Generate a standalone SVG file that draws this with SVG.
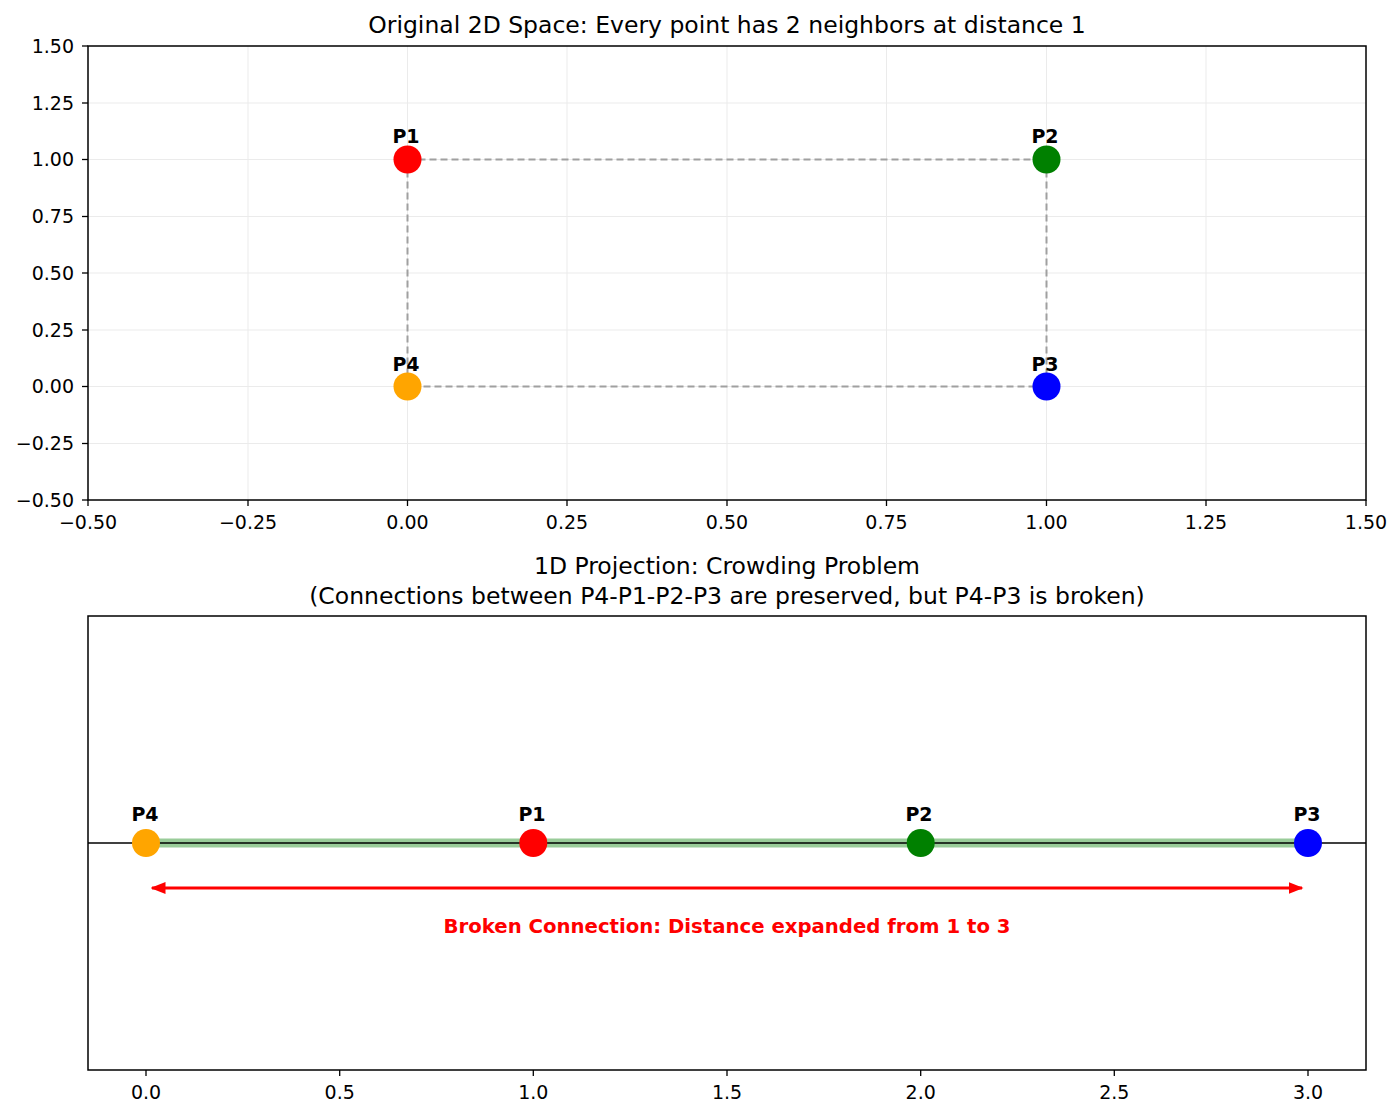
<svg xmlns="http://www.w3.org/2000/svg" width="1400" height="1118" viewBox="0 0 1400 1118">
<defs>
<style>
text{font-family:"DejaVu Sans","Liberation Sans",sans-serif;fill:#000}
.tick{font-size:19px}
.title{font-size:23.5px;text-anchor:middle}
.lbl{font-size:19px;font-weight:bold;text-anchor:middle}
.grid{stroke:#ebebeb;stroke-width:1}
.ax{stroke:#000;stroke-width:1.5;fill:none}
.tk{stroke:#000;stroke-width:1.3}
.dash{stroke:#a0a0a0;stroke-width:2;stroke-dasharray:7,4;fill:none}
</style>
<marker id="ah" viewBox="0 0 10 10" refX="9" refY="5" markerWidth="5" markerHeight="5" orient="auto-start-reverse" markerUnits="strokeWidth">
<path d="M0,1 L10,5 L0,9 z" fill="#ff0000"/>
</marker>
</defs>
<rect width="1400" height="1118" fill="#fff"/>

<!-- Top axes -->
<g id="top-axes">
<g class="grid">
<line x1="248" y1="46" x2="248" y2="500"/><line x1="407.5" y1="46" x2="407.5" y2="500"/><line x1="567" y1="46" x2="567" y2="500"/><line x1="727" y1="46" x2="727" y2="500"/><line x1="886.5" y1="46" x2="886.5" y2="500"/><line x1="1046.5" y1="46" x2="1046.5" y2="500"/><line x1="1206" y1="46" x2="1206" y2="500"/>
<line x1="88" y1="103" x2="1366" y2="103"/><line x1="88" y1="159.5" x2="1366" y2="159.5"/><line x1="88" y1="216.5" x2="1366" y2="216.5"/><line x1="88" y1="273" x2="1366" y2="273"/><line x1="88" y1="330" x2="1366" y2="330"/><line x1="88" y1="386.5" x2="1366" y2="386.5"/><line x1="88" y1="443.5" x2="1366" y2="443.5"/>
</g>
<rect class="ax" x="88" y="46" width="1278" height="454"/>
<g class="tk">
<line x1="82" y1="46" x2="88" y2="46"/><line x1="82" y1="103" x2="88" y2="103"/><line x1="82" y1="159.5" x2="88" y2="159.5"/><line x1="82" y1="216.5" x2="88" y2="216.5"/><line x1="82" y1="273" x2="88" y2="273"/><line x1="82" y1="330" x2="88" y2="330"/><line x1="82" y1="386.5" x2="88" y2="386.5"/><line x1="82" y1="443.5" x2="88" y2="443.5"/><line x1="82" y1="500" x2="88" y2="500"/>
<line x1="88" y1="500" x2="88" y2="506"/><line x1="248" y1="500" x2="248" y2="506"/><line x1="407.5" y1="500" x2="407.5" y2="506"/><line x1="567" y1="500" x2="567" y2="506"/><line x1="727" y1="500" x2="727" y2="506"/><line x1="886.5" y1="500" x2="886.5" y2="506"/><line x1="1046.5" y1="500" x2="1046.5" y2="506"/><line x1="1206" y1="500" x2="1206" y2="506"/><line x1="1366" y1="500" x2="1366" y2="506"/>
</g>
<g class="tick" text-anchor="end">
<text x="74" y="53">1.50</text><text x="74" y="110">1.25</text><text x="74" y="166">1.00</text><text x="74" y="223">0.75</text><text x="74" y="280">0.50</text><text x="74" y="337">0.25</text><text x="74" y="393">0.00</text><text x="74" y="450">−0.25</text><text x="74" y="507">−0.50</text>
</g>
<g class="tick" text-anchor="middle">
<text x="88" y="529">−0.50</text><text x="248" y="529">−0.25</text><text x="407.5" y="529">0.00</text><text x="567" y="529">0.25</text><text x="727" y="529">0.50</text><text x="886.5" y="529">0.75</text><text x="1046.5" y="529">1.00</text><text x="1206" y="529">1.25</text><text x="1366" y="529">1.50</text>
</g>
<text class="title" x="727" y="33">Original 2D Space: Every point has 2 neighbors at distance 1</text>
</g>

<g id="top-connectors">
<line class="dash" x1="407.5" y1="159.5" x2="1046.5" y2="159.5"/>
<line class="dash" x1="1046.5" y1="159.5" x2="1046.5" y2="386.5"/>
<line class="dash" x1="1046.5" y1="386.5" x2="407.5" y2="386.5"/>
<line class="dash" x1="407.5" y1="386.5" x2="407.5" y2="159.5"/>
</g>

<g id="top-P1"><circle cx="407.5" cy="159.5" r="14" fill="#ff0000"/><text class="lbl" x="406" y="143">P1</text></g>
<g id="top-P2"><circle cx="1046.5" cy="159.5" r="14" fill="#008000"/><text class="lbl" x="1045" y="143">P2</text></g>
<g id="top-P3"><circle cx="1046.5" cy="386.5" r="14" fill="#0000ff"/><text class="lbl" x="1045" y="371">P3</text></g>
<g id="top-P4"><circle cx="407.5" cy="386.5" r="14" fill="#ffa500"/><text class="lbl" x="406" y="371">P4</text></g>

<!-- Bottom axes -->
<g id="bottom-axes">
<rect class="ax" x="88" y="616" width="1278" height="454"/>
<g class="tk">
<line x1="146" y1="1070" x2="146" y2="1076"/><line x1="339.7" y1="1070" x2="339.7" y2="1076"/><line x1="533.3" y1="1070" x2="533.3" y2="1076"/><line x1="727" y1="1070" x2="727" y2="1076"/><line x1="920.7" y1="1070" x2="920.7" y2="1076"/><line x1="1114.3" y1="1070" x2="1114.3" y2="1076"/><line x1="1308" y1="1070" x2="1308" y2="1076"/>
</g>
<g class="tick" text-anchor="middle">
<text x="146" y="1099">0.0</text><text x="339.7" y="1099">0.5</text><text x="533.3" y="1099">1.0</text><text x="727" y="1099">1.5</text><text x="920.7" y="1099">2.0</text><text x="1114.3" y="1099">2.5</text><text x="1308" y="1099">3.0</text>
</g>
<text class="title" x="727" y="574">1D Projection: Crowding Problem</text>
<text class="title" x="727" y="604">(Connections between P4-P1-P2-P3 are preserved, but P4-P3 is broken)</text>
</g>

<g id="bottom-connectors">
<line x1="146" y1="843" x2="1308" y2="843" stroke="#008000" stroke-opacity="0.4" stroke-width="9"/>
<line x1="88" y1="843" x2="1366" y2="843" stroke="#000" stroke-width="1.5"/>
<line x1="152" y1="888" x2="1302" y2="888" stroke="#ff0000" stroke-width="3" marker-start="url(#ah)" marker-end="url(#ah)"/>
<text x="727" y="933" text-anchor="middle" font-size="19.7" font-weight="bold" style="fill:#ff0000">Broken Connection: Distance expanded from 1 to 3</text>
</g>

<g id="bottom-P4"><circle cx="146" cy="843" r="14" fill="#ffa500"/><text class="lbl" x="145" y="821">P4</text></g>
<g id="bottom-P1"><circle cx="533.3" cy="843" r="14" fill="#ff0000"/><text class="lbl" x="532" y="821">P1</text></g>
<g id="bottom-P2"><circle cx="920.7" cy="843" r="14" fill="#008000"/><text class="lbl" x="919" y="821">P2</text></g>
<g id="bottom-P3"><circle cx="1308" cy="843" r="14" fill="#0000ff"/><text class="lbl" x="1307" y="821">P3</text></g>
</svg>
